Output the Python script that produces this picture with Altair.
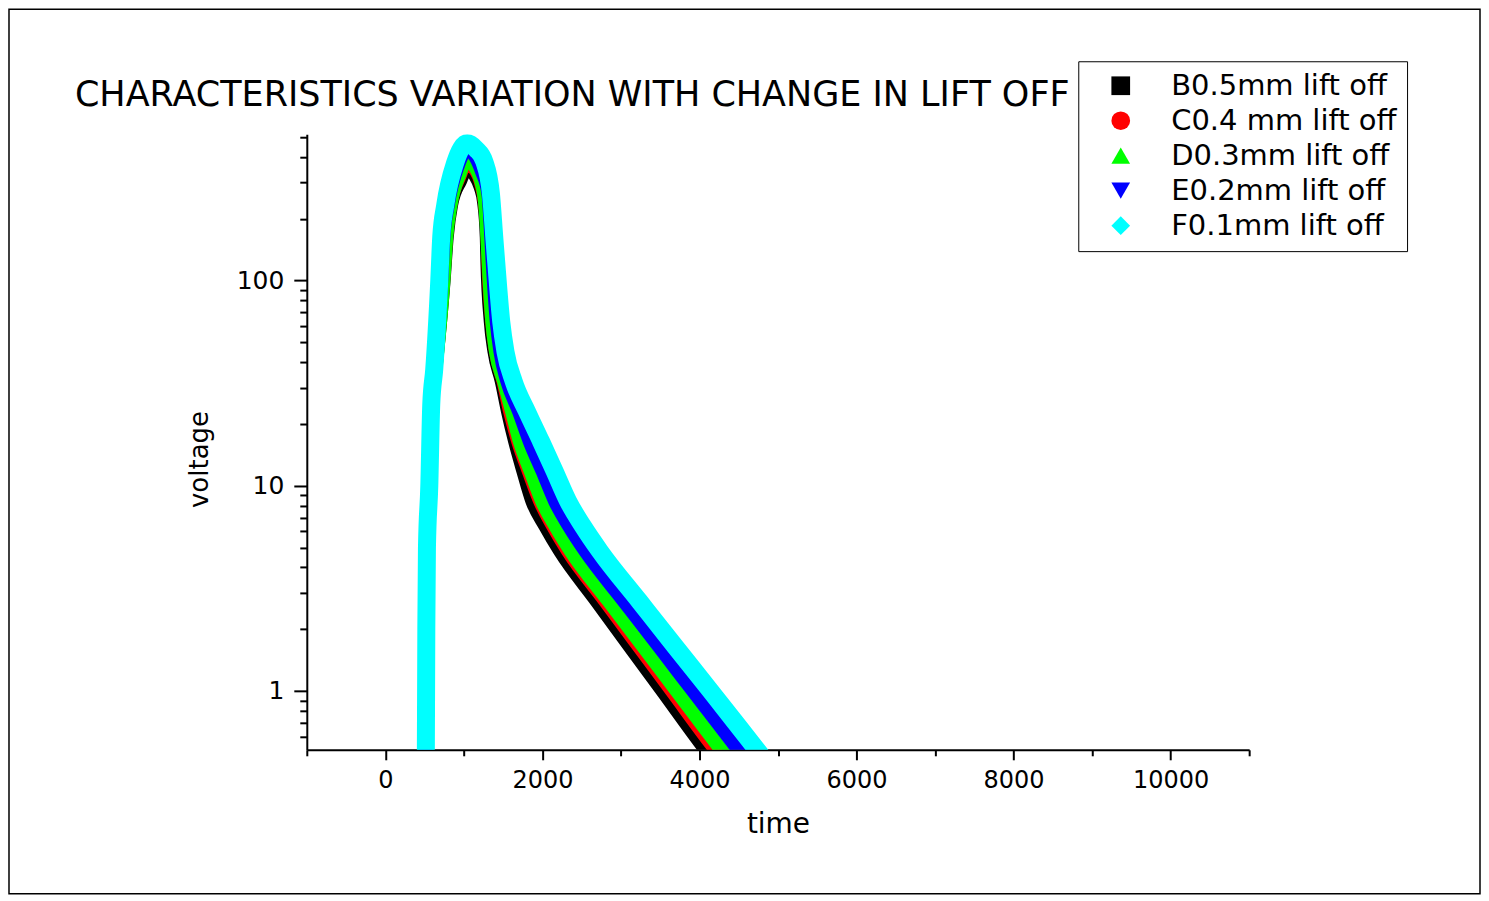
import altair as alt
import pandas as pd

# ---- data ----
names = ["B0.5mm lift off", "C0.4 mm lift off", "D0.3mm lift off", "E0.2mm lift off", "F0.1mm lift off"]
colors = ["#000000", "#ff0000", "#00ff00", "#0000ff", "#00ffff"]
shapes = ["square", "circle", "triangle-up", "triangle-down", "diamond"]

b_time = [515, 522, 532, 567, 600, 650, 755, 795, 850, 965, 1043, 1130, 1200, 1245, 1279, 1287, 1330, 1377, 1470, 1550, 1640, 1745, 1860, 2026, 2214, 2677, 3098, 3515, 4063, 4293]
b_volt = [0.4, 2, 5, 10, 25, 37, 100, 163, 233, 305, 350, 325, 285, 240, 163, 123, 63, 45, 32.2, 22.9, 16.4, 11.76, 8.39, 6.34, 4.79, 2.74, 1.65, 1.0, 0.517, 0.4]

c_time = [515, 522, 531, 566, 597, 645, 748, 785, 840, 955, 1043, 1135, 1205, 1255, 1290, 1300, 1349, 1396, 1492, 1577, 1680, 1813, 1958, 2124, 2314, 2786, 3213, 3634, 4190, 4420]
c_volt = [0.4, 2, 5, 10, 25, 37, 100, 163, 233, 320, 372, 345, 300, 240, 163, 123, 63, 45, 32.2, 22.9, 16.4, 11.76, 8.39, 6.34, 4.79, 2.74, 1.65, 1.0, 0.517, 0.4]

d_time = [515, 522, 531, 565, 595, 640, 740, 776, 830, 945, 1043, 1140, 1215, 1270, 1299, 1315, 1362, 1409, 1512, 1615, 1713, 1851, 1997, 2168, 2365, 2845, 3282, 3712, 4279, 4509]
d_volt = [0.4, 2, 5, 10, 25, 37, 100, 163, 233, 330, 395, 360, 310, 240, 163, 123, 63, 45, 32.2, 22.9, 16.4, 11.76, 8.39, 6.34, 4.79, 2.74, 1.65, 1.0, 0.517, 0.4]

e_time = [515, 522, 530, 562, 590, 630, 712, 740, 795, 920, 1043, 1150, 1230, 1313, 1349, 1367, 1419, 1466, 1554, 1704, 1840, 2003, 2163, 2342, 2550, 3039, 3483, 3920, 4496, 4726]
e_volt = [0.4, 2, 5, 10, 25, 37, 100, 163, 233, 360, 435, 400, 340, 264, 163, 123, 63, 45, 32.2, 22.9, 16.4, 11.76, 8.39, 6.34, 4.79, 2.74, 1.65, 1.0, 0.517, 0.4]

f_time = [515, 522, 530, 560, 585, 623, 687, 712, 763, 890, 1043, 1160, 1260, 1345, 1387, 1412, 1476, 1530, 1635, 1806, 1984, 2156, 2328, 2518, 2734, 3234, 3689, 4142, 4731, 4961]
f_volt = [0.4, 2, 5, 10, 25, 37, 100, 163, 233, 375, 466, 435, 380, 264, 163, 123, 63, 45, 32.2, 22.9, 16.4, 11.76, 8.39, 6.34, 4.79, 2.74, 1.65, 1.0, 0.517, 0.4]

x_ticks = list(range(-1000, 11001, 1000))
y_ticks = [0.6, 0.7, 0.8, 0.9, 1, 2, 3, 4, 5, 6, 7, 8, 9, 10, 20, 30, 40, 50, 60, 70, 80, 90, 100, 200, 300, 400, 500]

series_times = [b_time, c_time, d_time, e_time, f_time]
series_volts = [b_volt, c_volt, d_volt, e_volt, f_volt]
widths = [12, 12, 14, 14, 18]

FONT = "DejaVu Sans"

frames = []
for n, t, v in zip(names, series_times, series_volts):
    frames.append(pd.DataFrame({"time": t, "voltage": v, "series": n}))
df_all = pd.concat(frames, ignore_index=True)

xscale = alt.Scale(domain=[-1000, 11000], nice=False, zero=False)
yscale = alt.Scale(type="log", domain=[0.517, 516], nice=False)

xaxis = alt.Axis(
    values=x_ticks, format="d",
    labelExpr="datum.value % 2000 === 0 ? datum.label : ''",
    tickSize={"condition": {"test": "datum.value % 2000 === 0", "value": 10}, "value": 6},
    grid=False, domainColor="black", domainWidth=2, tickColor="black", tickWidth=2,
    labelFont=FONT, labelFontSize=24, labelColor="black", labelPadding=9,
    titleFont=FONT, titleFontSize=28, titleFontWeight="normal", titleColor="black", titlePadding=18,
    labelFlush=False,
)
yaxis = alt.Axis(
    values=y_ticks,
    labelExpr="(datum.value == 1 || datum.value == 10 || datum.value == 100) ? datum.value + '' : ''",
    tickSize={"condition": {"test": "datum.value == 1 || datum.value == 10 || datum.value == 100", "value": 13}, "value": 7},
    grid=False, domainColor="black", domainWidth=2, tickColor="black", tickWidth=2,
    labelFont=FONT, labelFontSize=25, labelColor="black", labelPadding=10,
    titleFont=FONT, titleFontSize=26, titleFontWeight="normal", titleColor="black", titlePadding=24,
    titleY=325,
    labelFlush=False,
)

layers = []

frame = alt.Chart(pd.DataFrame({"k": [0]})).mark_rect(
    fillOpacity=0, stroke="black", strokeWidth=1.5
).encode(
    x=alt.value(-298), x2=alt.value(1174), y=alt.value(-125), y2=alt.value(760)
)
layers.append(frame)

for i, (n, w, c) in enumerate(zip(names, widths, colors)):
    ln = alt.Chart(frames[i]).mark_line(
        color=c, strokeWidth=w, clip=True, strokeJoin="round", strokeCap="butt",
        interpolate="monotone",
    ).encode(
        x=alt.X("time:Q", scale=xscale, axis=xaxis, title="time"),
        y=alt.Y("voltage:Q", scale=yscale, axis=yaxis, title="voltage"),
    )
    layers.append(ln)

leg = alt.Legend(
    title=None, orient="none", legendX=772, legendY=-73,
    strokeColor="black", fillColor="white", padding=10, cornerRadius=0,
    labelFont=FONT, labelFontSize=29, labelColor="black", labelLimit=500,
    symbolSize=350, symbolOpacity=1, symbolStrokeWidth=0,
    rowPadding=5, symbolOffset=18, labelOffset=36,
)
pts = alt.Chart(df_all).mark_point(filled=True, opacity=0, clip=True).encode(
    x=alt.X("time:Q", scale=xscale),
    y=alt.Y("voltage:Q", scale=yscale),
    color=alt.Color("series:N", scale=alt.Scale(domain=names, range=colors), legend=leg),
    shape=alt.Shape("series:N", scale=alt.Scale(domain=names, range=shapes), legend=leg),
)
layers.append(pts)

chart = alt.layer(*layers).properties(
    width=943, height=616, padding=0,
    title=alt.TitleParams(
        "CHARACTERISTICS VARIATION WITH CHANGE IN LIFT OFF",
        anchor="start", frame="group", dx=-232, offset=-105,
        font=FONT, fontSize=35, fontWeight="normal", color="black",
    ),
).configure(background="white").configure_view(strokeWidth=0)

chart.save("out.html", embed_options={"renderer": "svg", "actions": False})
